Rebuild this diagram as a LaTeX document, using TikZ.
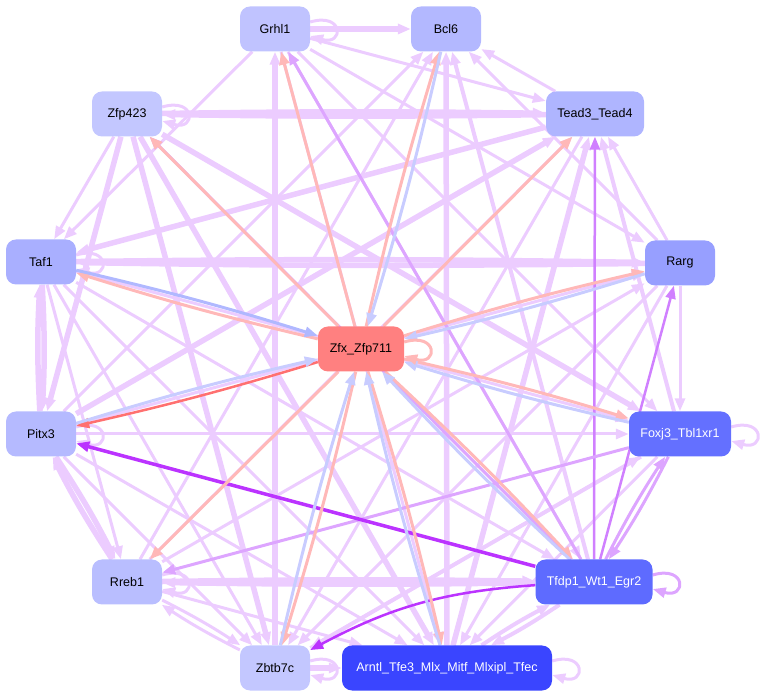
\documentclass[tikz,border=0pt]{standalone}
\usepackage{fontspec}
\setmainfont{Liberation Sans}
\usetikzlibrary{arrows.meta,calc}
\pgfdeclarelayer{bg}
\pgfsetlayers{bg,main}
\definecolor{cPL}{HTML}{ECCCFF}
\definecolor{cPM}{HTML}{DDA5FF}
\definecolor{cPMM}{HTML}{D080FF}
\definecolor{cPD}{HTML}{BB33FF}
\definecolor{cRD}{HTML}{FFB8B8}
\definecolor{cRDD}{HTML}{FF7070}
\definecolor{cBL}{HTML}{C8CCFF}
\definecolor{cBLL}{HTML}{B0B8FF}
\definecolor{fG}{HTML}{C0C3FF}
\definecolor{fB}{HTML}{B3B8FF}
\definecolor{fZ}{HTML}{C3C7FF}
\definecolor{fT}{HTML}{AFB5FF}
\definecolor{fTa}{HTML}{A9AFFF}
\definecolor{fR}{HTML}{979FFF}
\definecolor{fX}{HTML}{FF8080}
\definecolor{fP}{HTML}{B5BAFF}
\definecolor{fF}{HTML}{6470FF}
\definecolor{fRr}{HTML}{B9BEFF}
\definecolor{fTf}{HTML}{5E6BFF}
\definecolor{fZb}{HTML}{C3C7FF}
\definecolor{fA}{HTML}{3A45FF}
\tikzset{
  nd/.style={rounded corners=10pt, minimum height=45pt, minimum width=70pt, inner sep=0pt,
    font=\fontsize{12.5}{14}\selectfont, text=black},
  ee/.style={-{Triangle[length=13pt,width=10pt]}},
  pl/.style={ee, draw=cPL, line width=3pt},
  plm/.style={ee, draw=cPL, line width=4pt},
  pt/.style={ee, draw=cPL, line width=5.5pt},
  pm/.style={ee, draw=cPM, line width=3pt},
  pmm/.style={ee, draw=cPMM, line width=2.5pt},
  pd/.style={ee, draw=cPD, line width=3.5pt},
  rd/.style={ee, draw=cRD, line width=3pt},
  rdd/.style={ee, draw=cRDD, line width=2.5pt},
  bl/.style={ee, draw=cBL, line width=3pt},
  bll/.style={ee, draw=cBLL, line width=3pt},
  bp/.style={bend left=2},
  bq/.style={bend left=0.8},
  bs/.style={bend left=3},
  lp/.style={to path={([yshift=7pt]\tikztostart.east) .. controls +(34pt,10pt) and +(34pt,-10pt) .. ([yshift=-7pt]\tikztostart.east)}},
}
\begin{document}
\begin{tikzpicture}[x=1pt,y=1pt]
\useasboundingbox (0,0) rectangle (762,698);
% nodes
\node[nd, fill=fG] (G) at (275,669) {Grhl1};
\node[nd, fill=fB] (B) at (446,669) {Bcl6};
\node[nd, fill=fZ] (Z4) at (127,584) {Zfp423};
\node[nd, fill=fT, minimum width=98pt] (T) at (595,584) {Tead3\_Tead4};
\node[nd, fill=fTa] (Ta) at (41,436) {Taf1};
\node[nd, fill=fR] (R) at (680,435) {Rarg};
\node[nd, fill=fX, minimum width=86pt] (X) at (361,349) {Zfx\_Zfp711};
\node[nd, fill=fP] (P) at (41,264) {Pitx3};
\node[nd, fill=fF, minimum width=102pt, text=white] (F) at (680,264) {Foxj3\_Tbl1xr1};
\node[nd, fill=fRr] (Rr) at (127,116) {Rreb1};
\node[nd, fill=fTf, minimum width=117pt, text=white] (Tf) at (594,116) {Tfdp1\_Wt1\_Egr2};
\node[nd, fill=fZb] (Zb) at (275,30) {Zbtb7c};
\node[nd, fill=fA, minimum width=210pt, text=white] (A) at (447,30) {Arntl\_Tfe3\_Mlx\_Mitf\_Mlxipl\_Tfec};

\begin{pgfonlayer}{bg}
% light purple edges
\draw[pt] (G) -- (B);
\draw[pl] (G) -- (T);
\draw[pl] (G) -- (R);
\draw[pl] (G) -- (F);
\draw[pl] (G) -- (Tf);
\draw[pl] (G) -- (A);
\draw[pl] (G) -- (Ta);
\draw[pt] (Zb) -- (G);
\draw[pl] (T) -- (B);
\draw[pt] (A) -- (B);
\draw[plm] (Tf) -- (B);
\draw[pl] (P) -- (B);
\draw[pl] (Rr) -- (B);
\draw[pl] (R) -- (B);
\draw[pt] (Z4) to[bq] (T);
\draw[pt] (T) to[bq] (Z4);
\draw[pt] (T) -- (Ta);
\draw[pl] (R) -- (T);
\draw[plm] (F) -- (T);
\draw[pt] (A) -- (T);
\draw[pl] (Rr) -- (T);
\draw[pt] (P) -- (T);
\draw[pl] (T) -- (Zb);
\draw[pt] (Ta) to[bq] (R);
\draw[pt] (R) to[bq] (Ta);
\draw[pl] (R) -- (F);
\draw[pt] (Z4) -- (F);
\draw[pl] (P) -- (F);
\draw[pl] (Ta) -- (F);
\draw[pl] (Zb) -- (F);
\draw[pl] (Rr) -- (R);
\draw[pl] (P) -- (R);
\draw[pt] (Rr) to[bq] (Tf);
\draw[pt] (Tf) to[bq] (Rr);
\draw[plm] (A) to[bs] (Tf);
\draw[plm] (Tf) to[bs] (A);
\draw[pl] (Ta) -- (Tf);
\draw[pt] (Zb) -- (A);
\draw[pt] (Z4) -- (A);
\draw[pl] (Ta) -- (A);
\draw[pl] (P) -- (A);
\draw[pl] (Rr) -- (A);
\draw[pl] (R) -- (A);
\draw[pl] (F) -- (A);
\draw[pl] (Zb) to[bs] (Rr);
\draw[pl] (Rr) to[bs] (Zb);
\draw[pl] (Ta) -- (Zb);
\draw[pl] (P) -- (Zb);
\draw[pt] (Z4) -- (Zb);
\draw[pl] (R) -- (Zb);
\draw[plm] (F) -- (Zb);
\draw[pt] (Rr) to[bs] (P);
\draw[pt] (P) to[bs] (Rr);
\draw[pt] (P) to[bs] (Ta);
\draw[pt] (Ta) to[bs] (P);
\draw[pl] (Z4) -- (Ta);
\draw[pt] (Z4) -- (P);
\draw[pl] (Ta) -- (Rr);
% self loops
\draw[pl] (G) to[lp] (G);
\draw[pl] (Z4) to[lp] (Z4);
\draw[pl] (Ta) to[lp] (Ta);
\draw[pl] (P) to[lp] (P);
\draw[pl] (Rr) to[lp] (Rr);
\draw[pl] (F) to[lp] (F);
\draw[pm] (Tf) to[lp] (Tf);
\draw[pl] (Zb) to[lp] (Zb);
\draw[pl] (A) to[lp] (A);
% medium / dark purple
\draw[pm] (Tf) -- (G);
\draw[pmm] (Tf) -- (T);
\draw[pmm] (Tf) -- (R);
\draw[pm] (Tf) to[bs] (F);
\draw[pm] (F) to[bs] (Tf);
\draw[pm] (Tf) -- (Z4);
\draw[pm] (F) -- (Rr);
\draw[pd] (Tf) -- (P);
\draw[pd, line width=2.5pt] (Tf) to[bend right=12] (Zb);
% red / blue edges of Zfx_Zfp711
\draw[rd] (X) -- (G);
\draw[rd] (X) to[bp] (B);
\draw[bl] (B) to[bp] (X);
\draw[rd] (X) -- (T);
\draw[rd] (X) to[bp] (R);
\draw[bl] (R) to[bp] (X);
\draw[rd] (X) to[bp] (F);
\draw[bl] (F) to[bp] (X);
\draw[rd] (X) to[bp] (Tf);
\draw[bl] (Tf) to[bp] (X);
\draw[rd] (X) to[bp] (A);
\draw[bl] (A) to[bp] (X);
\draw[rd] (X) to[bp] (Zb);
\draw[bl] (Zb) to[bp] (X);
\draw[rd] (X) -- (Rr);
\draw[rdd] (X) to[bp] (P);
\draw[bl] (P) to[bp] (X);
\draw[rd] (X) to[bp] (Ta);
\draw[bll] (Ta) to[bp] (X);
\draw[rd] (X) -- (Z4);
\draw[rd] (X) to[lp] (X);
\end{pgfonlayer}
\end{tikzpicture}
\end{document}
